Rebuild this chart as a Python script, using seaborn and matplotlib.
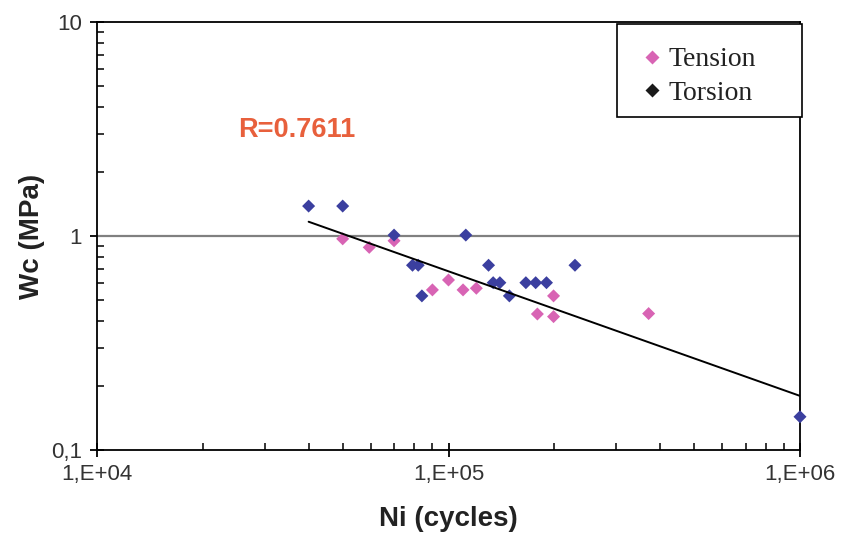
import numpy as np
import pandas as pd
import matplotlib
matplotlib.use("Agg")
import matplotlib.pyplot as plt
from matplotlib.lines import Line2D
from matplotlib.patches import Rectangle
from matplotlib.ticker import LogLocator, FixedLocator, FixedFormatter, NullFormatter
import seaborn as sns

# Fatigue data: cycles to initiation vs. critical energy density
tension_ni = [50000, 59500, 70000, 90000, 100000, 110000, 120000, 179000, 199000, 199000, 371000]
tension_wc = [0.97, 0.885, 0.95, 0.56, 0.623, 0.56, 0.57, 0.432, 0.525, 0.42, 0.434]

torsion_ni = [40000, 50000, 70000, 112000, 79000, 82000, 84000, 130000, 134000, 140000,
              149000, 166000, 177000, 190000, 229000, 1000000]
torsion_wc = [1.38, 1.38, 1.01, 1.01, 0.73, 0.73, 0.525, 0.73, 0.605, 0.605,
              0.525, 0.605, 0.605, 0.605, 0.73, 0.143]

# Power-law trend line endpoints
trend_ni = [40000, 1000000]
trend_wc = [1.166, 0.179]

x_ticks = [1e4, 1e5, 1e6]
x_tick_labels = ["1,E+04", "1,E+05", "1,E+06"]
y_ticks = [0.1, 1, 10]
y_tick_labels = ["0,1", "1", "10"]

df = pd.DataFrame({
    "Ni": tension_ni + torsion_ni,
    "Wc": tension_wc + torsion_wc,
    "Loading": ["Tension"] * len(tension_ni) + ["Torsion"] * len(torsion_ni),
})

sns.set_style("white")
plt.rcParams["font.family"] = ["Liberation Sans", "DejaVu Sans"]

fig = plt.figure(figsize=(8.42, 5.43), dpi=100)
ax = fig.add_axes([97 / 842, 1 - 450 / 543, 703 / 842, 428 / 543])

pink = "#d864b4"
navy = "#3b3f9f"

ax.axhline(1, color="#808080", lw=1.6, zorder=1)

sns.scatterplot(data=df, x="Ni", y="Wc", hue="Loading",
                palette={"Tension": pink, "Torsion": navy},
                marker="D", s=44, edgecolor="none", linewidth=0,
                legend=False, ax=ax, zorder=3, clip_on=False)

sns.lineplot(x=trend_ni, y=trend_wc, color="black", lw=1.4, ax=ax, zorder=4)

ax.set_xscale("log")
ax.set_yscale("log")
ax.set_xlim(1e4, 1e6)
ax.set_ylim(0.1, 10)

ax.xaxis.set_major_locator(FixedLocator(x_ticks))
ax.xaxis.set_major_formatter(FixedFormatter(x_tick_labels))
ax.yaxis.set_major_locator(FixedLocator(y_ticks))
ax.yaxis.set_major_formatter(FixedFormatter(y_tick_labels))
ax.xaxis.set_minor_locator(LogLocator(base=10, subs=np.arange(2, 10)))
ax.yaxis.set_minor_locator(LogLocator(base=10, subs=np.arange(2, 10)))
ax.xaxis.set_minor_formatter(NullFormatter())
ax.yaxis.set_minor_formatter(NullFormatter())

ax.tick_params(axis="both", which="both", bottom=True, left=True, top=False, right=False)
ax.tick_params(axis="both", which="major", direction="inout", length=10, width=1.3,
               color="black", labelsize=16, labelcolor="#333333")
ax.tick_params(axis="both", which="minor", direction="in", length=5, width=1.1, color="black")
ax.tick_params(axis="x", which="major", pad=5)
ax.tick_params(axis="y", which="major", pad=6)

for side in ["left", "bottom", "top", "right"]:
    ax.spines[side].set_color("black")
    ax.spines[side].set_linewidth(1.3)
    ax.spines[side].set_visible(True)

ax.set_xlabel("Ni (cycles)", fontsize=20, fontweight="bold", color="#222222", labelpad=15)
ax.set_ylabel("Wc (MPa)", fontsize=20, fontweight="bold", color="#222222", labelpad=4)

ax.text(25200, 3.13, "R=0.7611", color="#e8603c", fontsize=19.5, fontweight="bold",
        va="center", ha="left")

# Legend box drawn as a plain frame, entries placed inside it
box = Rectangle((0.7392, 0.778), 0.2637, 0.2173, transform=ax.transAxes,
                facecolor="white", edgecolor="black", lw=1.2, clip_on=False, zorder=5)
ax.add_patch(box)

handles = [
    Line2D([], [], marker="D", color="none", markerfacecolor=pink, markeredgecolor="none",
           markersize=7),
    Line2D([], [], marker="D", color="none", markerfacecolor="#1a1a1a", markeredgecolor="none",
           markersize=7),
]
leg = ax.legend(handles, ["Tension", "Torsion"], loc="upper left",
                bbox_to_anchor=(0.7777, 0.9416),
                prop={"family": "Liberation Serif", "size": 20},
                frameon=False, borderaxespad=0, borderpad=0,
                handlelength=0.6, handletextpad=0.3, labelspacing=0.28)
leg.set_zorder(6)
for t in leg.get_texts():
    t.set_color("#222222")

fig.savefig("out.png", dpi=100, facecolor="white")
